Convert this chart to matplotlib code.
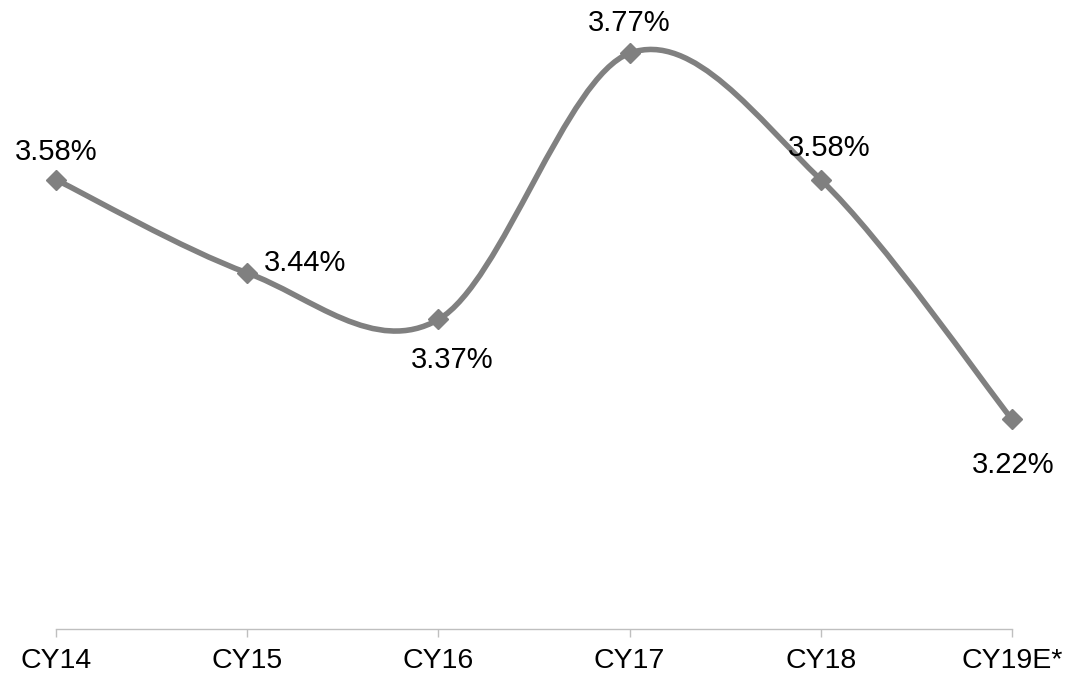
import matplotlib
matplotlib.use('Agg')
import matplotlib.pyplot as plt
from matplotlib.path import Path
from matplotlib.patches import PathPatch
import numpy as np

plt.rcParams['font.family'] = ['Liberation Sans', 'DejaVu Sans']

categories = ['CY14', 'CY15', 'CY16', 'CY17', 'CY18', 'CY19E*']
values = [3.58, 3.44, 3.37, 3.77, 3.58, 3.22]
labels = ['3.58%', '3.44%', '3.37%', '3.77%', '3.58%', '3.22%']
# label offsets in points (dx, dy)
label_offsets = [(0, 20), (42, 7), (10, -29.5), (0, 22), (6, 23), (1, -33)]

LINE_COLOR = '#808080'
AXIS_COLOR = '#BFBFBF'


def smooth_path(xs, ys):
    # Excel-like smoothed line: Catmull-Rom converted to cubic Bezier segments
    pts = np.column_stack([xs, ys]).astype(float)
    n = len(pts)
    verts = [pts[0]]
    codes = [Path.MOVETO]
    for i in range(n - 1):
        p0 = pts[i - 1] if i > 0 else pts[i]
        p1 = pts[i]
        p2 = pts[i + 1]
        p3 = pts[i + 2] if i + 2 < n else pts[i + 1]
        c1 = p1 + (p2 - p0) / 6.0
        c2 = p2 - (p3 - p1) / 6.0
        verts += [c1, c2, p2]
        codes += [Path.CURVE4] * 3
    return Path(verts, codes)


fig = plt.figure(figsize=(10.66, 6.77), dpi=100)
ax = fig.add_axes([56 / 1066, 48 / 677, 956 / 1066, 629 / 677])

x = np.arange(len(categories))
patch = PathPatch(smooth_path(x, values), facecolor='none', edgecolor=LINE_COLOR,
                  lw=4.0, capstyle='round', joinstyle='round', clip_on=False)
ax.add_patch(patch)
ax.plot(x, values, linestyle='none', marker='D', markersize=10,
        color=LINE_COLOR, zorder=3, clip_on=False)

for xi, v, lab, (dx, dy) in zip(x, values, labels, label_offsets):
    ax.annotate(lab, (xi, v), xytext=(dx, dy), textcoords='offset points',
                ha='center', va='center', fontsize=21, color='black')

ax.set_xlim(0, len(categories) - 1)
ax.set_ylim(2.905, 3.85)
ax.set_xticks(x)
ax.set_xticklabels(categories, fontsize=20.5)
ax.set_yticks([])
for s in ['left', 'right', 'top']:
    ax.spines[s].set_visible(False)
ax.spines['bottom'].set_color(AXIS_COLOR)
ax.spines['bottom'].set_linewidth(1.0)
ax.tick_params(axis='x', color=AXIS_COLOR, length=6, width=1.0, pad=8)
ax.patch.set_alpha(0)

fig.savefig('out.png', dpi=100)
plt.close(fig)
